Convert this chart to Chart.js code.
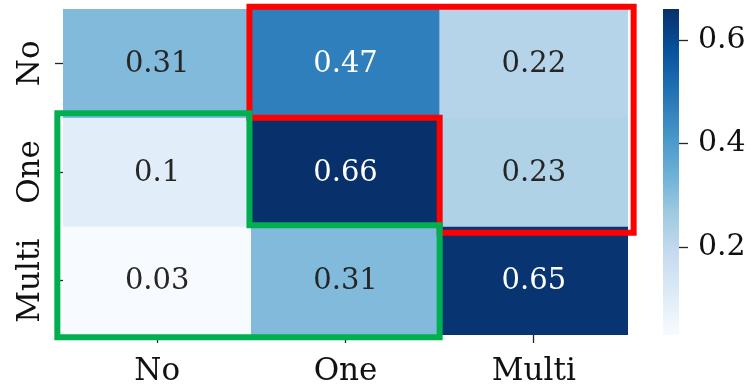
<!DOCTYPE html>
<html><head><meta charset="utf-8">
<script src="https://cdn.jsdelivr.net/npm/chart.js@4/dist/chart.umd.min.js"></script>
<style>
html,body{margin:0;padding:0;background:#fff;}
#wrap{position:relative;width:756px;height:390px;overflow:hidden;}
</style></head><body>
<div id="wrap">
<div style="position:absolute;left:0;top:0;width:645px;height:390px"><canvas id="main" width="645" height="390"></canvas></div>
<div style="position:absolute;left:645px;top:0;width:111px;height:390px"><canvas id="cbar" width="111" height="390"></canvas></div>
</div>
<script>
// ---- data ----
const colLabels = ['No', 'One', 'Multi'];
const rowLabels = ['No', 'One', 'Multi'];
const rowNo    = [0.31, 0.47, 0.22];
const rowOne   = [0.10, 0.66, 0.23];
const rowMulti = [0.03, 0.31, 0.65];
const colorbarTicks = [0.2, 0.4, 0.6];
// highlighted regions, in cell units (column, row)
const redRegion   = [[0.49,-0.52],[2.53,-0.52],[2.53,1.56],[1.5,1.56],[1.5,0.5],[0.49,0.5]];
const greenRegion = [[-0.53,0.46],[0.49,0.46],[0.49,1.49],[1.5,1.49],[1.5,2.52],[-0.53,2.52]];

const rows = [rowNo, rowOne, rowMulti];
const allVals = rows.flat();
const vmin = Math.min(...allVals), vmax = Math.max(...allVals);

// ---- style ----
const FONT_FAMILY = "'DejaVu Serif', serif";
const CELL_FONT = 29, TICK_FONT = 31, CBAR_FONT = 30;
const TEXT_DARK = '#262626';
const BLUES = ['#f7fbff','#deebf7','#c6dbef','#9ecae1','#6baed6','#4292c6','#2171b5','#08519c','#08306b'];

function hexRgb(h){ return [parseInt(h.slice(1,3),16),parseInt(h.slice(3,5),16),parseInt(h.slice(5,7),16)]; }
function bluesRgb(t){
  t = Math.max(0, Math.min(1, t));
  const s = t * (BLUES.length - 1);
  const i = Math.min(Math.floor(s), BLUES.length - 2);
  const f = s - i;
  const a = hexRgb(BLUES[i]), b = hexRgb(BLUES[i+1]);
  return a.map((c,k)=>Math.round(c + (b[k]-c)*f));
}
function norm(v){ return (v - vmin) / (vmax - vmin); }
function rgbStr(c){ return 'rgb(' + c.join(',') + ')'; }
function lum(c){
  const l = c.map(x=>{ x/=255; return x <= 0.03928 ? x/12.92 : Math.pow((x+0.055)/1.055, 2.4); });
  return 0.2126*l[0] + 0.7152*l[1] + 0.0722*l[2];
}

const Y_TICK_LEN = 8, Y_LABEL_CENTER = 31, Y_AXIS_W = 63;
const mctx = document.createElement('canvas').getContext('2d');
mctx.font = TICK_FONT + 'px ' + FONT_FAMILY;
const widest = Math.max(...rowLabels.map(l => mctx.measureText(l).width));
const yPad = Y_AXIS_W - Y_TICK_LEN - widest/2 - Y_LABEL_CENTER;

const cellPlugin = {
  id: 'cells',
  afterDatasetsDraw(chart){
    const {ctx, scales:{x, y}} = chart;
    ctx.save();
    ctx.font = CELL_FONT + 'px ' + FONT_FAMILY;
    ctx.textAlign = 'center';
    ctx.textBaseline = 'middle';
    rows.forEach((vals, r) => vals.forEach((v, c) => {
      const col = bluesRgb(norm(v));
      ctx.fillStyle = lum(col) > 0.408 ? TEXT_DARK : '#ffffff';
      ctx.fillText(String(v), x.getPixelForValue(c), y.getPixelForValue(r) + 1);
    }));
    const drawPoly = (pts, color) => {
      ctx.beginPath();
      pts.forEach(([cx, cy], i) => {
        const px = x.getPixelForValue(cx), py = y.getPixelForValue(cy);
        if (i === 0) ctx.moveTo(px, py); else ctx.lineTo(px, py);
      });
      ctx.closePath();
      ctx.lineWidth = 6;
      ctx.lineJoin = 'miter';
      ctx.strokeStyle = color;
      ctx.stroke();
    };
    drawPoly(redRegion, '#ff0000');
    drawPoly(greenRegion, '#00b050');
    ctx.restore();
  }
};

const tickFont = {family: FONT_FAMILY, size: TICK_FONT};
const cbarFont = {family: FONT_FAMILY, size: CBAR_FONT};

new Chart(document.getElementById('main'), {
  type: 'bar',
  data: {
    labels: colLabels,
    datasets: rows.map((vals, r) => ({
      label: rowLabels[r],
      data: vals.map(() => [r - 0.5, r + 0.5]),
      backgroundColor: vals.map(v => rgbStr(bluesRgb(norm(v)))),
      borderWidth: 0,
      barPercentage: 1,
      categoryPercentage: 1,
      grouped: false
    }))
  },
  options: {
    responsive: false,
    animation: false,
    layout: {padding: {left: 0, top: 9, right: 17, bottom: 0}},
    plugins: {legend: {display: false}, tooltip: {enabled: false}},
    scales: {
      x: {
        grid: {offset: false, drawOnChartArea: false, drawTicks: true, tickLength: 8, tickColor: TEXT_DARK, tickWidth: 1.3},
        border: {display: false},
        ticks: {font: tickFont, color: '#111', padding: 10},
        afterFit: s => { s.height = 55; s.paddingLeft = 0; s.paddingRight = 0; }
      },
      y: {
        type: 'linear',
        reverse: true,
        min: -0.5, max: 2.5,
        afterBuildTicks: s => { s.ticks = rowLabels.map((_, i) => ({value: i})); },
        grid: {drawOnChartArea: false, drawTicks: true, tickLength: Y_TICK_LEN, tickColor: TEXT_DARK, tickWidth: 1.3},
        border: {display: false},
        ticks: {font: tickFont, color: '#111', minRotation: 90, maxRotation: 90, crossAlign: 'center', padding: yPad,
                callback: v => rowLabels[v]},
        afterFit: s => { s.width = Y_AXIS_W; s.paddingTop = 0; s.paddingBottom = 0; }
      }
    }
  },
  plugins: [cellPlugin]
});

new Chart(document.getElementById('cbar'), {
  type: 'bar',
  data: {
    labels: [''],
    datasets: [{
      data: [[vmin, vmax]],
      backgroundColor: (ctx) => {
        const a = ctx.chart.chartArea;
        if (!a) return BLUES[4];
        const g = ctx.chart.ctx.createLinearGradient(0, a.bottom, 0, a.top);
        BLUES.forEach((c, i) => g.addColorStop(i / (BLUES.length - 1), c));
        return g;
      },
      borderWidth: 0,
      barPercentage: 1,
      categoryPercentage: 1
    }]
  },
  options: {
    responsive: false,
    animation: false,
    layout: {padding: {left: 18, top: 9, right: 0, bottom: 55}},
    plugins: {legend: {display: false}, tooltip: {enabled: false}},
    scales: {
      x: {display: false},
      y: {
        position: 'right',
        min: vmin, max: vmax,
        afterBuildTicks: s => { s.ticks = colorbarTicks.map(v => ({value: v})); },
        grid: {drawOnChartArea: false, drawTicks: true, tickLength: 9, tickColor: TEXT_DARK, tickWidth: 1.3},
        border: {display: false},
        ticks: {font: cbarFont, color: '#111', padding: 10, callback: v => v.toFixed(1)},
        afterFit: s => { s.width = 77; s.paddingTop = 0; s.paddingBottom = 0; }
      }
    }
  }
});
</script>
</body></html>
